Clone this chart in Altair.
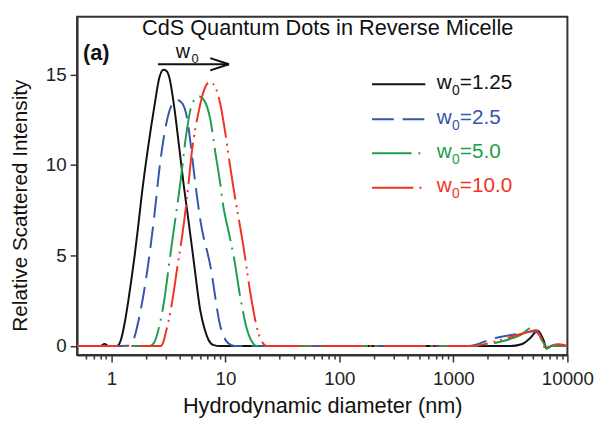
import altair as alt
import pandas as pd

FONT = "Liberation Sans, Arial, sans-serif"

series = ["w0=1.25", "w0=2.5", "w0=5.0", "w0=10.0"]
colors = ["#111111", "#3556aa", "#1f9e4c", "#ef3424"]
dashes = [[1, 0], [22, 9], [40, 7, 2, 7], [42, 6, 2, 5, 2, 6]]
legend_values = ["=1.25", "=2.5", "=5.0", "=10.0"]

x_black = [0.5, 0.8, 0.87, 0.95, 1.1, 1.15, 1.22, 1.31, 1.40, 1.50, 1.60, 1.71, 1.85, 2.09, 2.39, 2.64, 2.86, 3.05, 3.22, 3.56, 3.93, 4.35, 4.64, 5.3, 6.05, 6.6, 7.1, 7.9, 9.0, 100, 1000, 3140, 3960, 4670, 5500, 6200, 6560, 7400, 10000]
y_black = [0, 0, 0.12, 0, 0, 0.05, 0.4, 1.3, 2.4, 3.7, 5.0, 6.5, 8.4, 10.9, 13.3, 14.85, 15.27, 15.2, 14.85, 13.2, 11.0, 8.7, 7.4, 4.6, 1.9, 0.9, 0.35, 0.05, 0, 0, 0, 0, 0.1, 0.42, 0.85, 0.3, -0.13, 0.03, 0]

x_blue = [0.5, 1.0, 1.40, 1.55, 1.77, 2.09, 2.39, 2.64, 3.01, 3.44, 3.8, 4.2, 4.64, 4.95, 5.47, 6.05, 7.4, 9.0, 10.6, 12.0, 100, 1000, 1362, 2248, 3870, 5000, 5400, 6200, 6560, 7400, 10000]
y_blue = [0, 0, 0.02, 0.3, 1.7, 4.4, 7.3, 9.8, 12.2, 13.4, 13.6, 13.4, 12.5, 11.2, 8.9, 6.9, 4.4, 1.14, 0.15, 0, 0, 0, 0, 0.42, 0.69, 0.8, 0.75, 0.2, -0.1, 0.02, 0]

x_green = [0.5, 1.0, 2.15, 2.35, 2.64, 2.92, 3.22, 3.56, 3.85, 4.06, 4.49, 5.12, 5.85, 6.47, 7.39, 8.16, 9.0, 9.6, 10.6, 11.8, 13.6, 15.5, 17.5, 19.0, 100, 1000, 1450, 2575, 3870, 5000, 5500, 6200, 6560, 7400, 10000]
y_green = [0, 0, 0, 0.15, 1.14, 2.6, 4.6, 6.6, 8.1, 9.2, 11.5, 13.4, 13.8, 13.6, 12.5, 10.7, 9.0, 7.7, 6.4, 5.0, 2.6, 0.9, 0.15, 0, 0, 0, 0, 0.24, 0.6, 1.05, 0.7, 0.15, -0.15, 0.02, 0]

x_red = [0.5, 1.0, 2.7, 2.85, 3.01, 3.33, 3.8, 4.2, 4.57, 5.12, 5.85, 6.47, 7.29, 8.16, 9.0, 9.97, 11.0, 11.8, 14.4, 16.9, 19.3, 21.4, 23, 100, 1000, 1400, 2575, 4360, 5330, 6000, 6460, 7000, 8500, 10000]
y_red = [0, 0, 0, 0.2, 0.78, 2.05, 4.4, 6.2, 8.0, 10.9, 13.0, 14.1, 14.6, 14.3, 13.4, 11.8, 9.95, 8.7, 5.5, 2.6, 0.8, 0.15, 0, 0, 0, 0, 0.33, 0.75, 0.87, 0.3, -0.2, 0.05, 0.1, 0]

major_ticks = [1, 10, 100, 1000, 10000]
minor_ticks = [0.6, 0.7, 0.8, 0.9,
               2, 3, 4, 5, 6, 7, 8, 9,
               20, 30, 40, 50, 60, 70, 80, 90,
               200, 300, 400, 500, 600, 700, 800, 900,
               2000, 3000, 4000, 5000, 6000, 7000, 8000, 9000]
y_ticks = [0, 5, 10, 15]

frames = []
for name, xs, ys in [(series[0], x_black, y_black), (series[1], x_blue, y_blue),
                     (series[2], x_green, y_green), (series[3], x_red, y_red)]:
    frames.append(pd.DataFrame({"d": xs, "v": ys, "s": name, "o": list(range(len(xs)))}))
df = pd.concat(frames, ignore_index=True)

is_major = "indexof([1,10,100,1000,10000], datum.value) >= 0"

x_axis = alt.Axis(
    values=sorted(major_ticks + minor_ticks),
    labelExpr=f"{is_major} ? format(datum.value, 'd') : ''",
    tickSize={"condition": {"test": is_major, "value": 7}, "value": 4},
    labelOverlap=False, labelFlush=False, labelPadding=8,
    labelFontSize=19, titleFontSize=22, titlePadding=7,
    grid=False,
)
y_axis = alt.Axis(values=y_ticks, tickSize=7, labelPadding=4, labelFontSize=19,
                  titleFontSize=21, titleX=-57, titleY=191, titleBaseline="middle",
                  titleAlign="center", grid=False)

x_enc = alt.X("d:Q", scale=alt.Scale(type="log", domain=[0.5, 10000], nice=False),
              axis=x_axis, title="Hydrodynamic diameter (nm)")
y_enc = alt.Y("v:Q", scale=alt.Scale(domain=[-0.5, 18.2], nice=False, zero=False),
              axis=y_axis, title="Relative Scattered Intensity")

base = alt.Chart(df).encode(x=x_enc, y=y_enc, order="o:Q")
layers = []
for name, c, dsh in zip(series, colors, dashes):
    kw = dict(color=c, strokeWidth=2, interpolate="monotone", clip=True)
    if dsh != [1, 0]:
        kw["strokeDash"] = dsh
    layers.append(base.transform_filter(alt.datum.s == name).mark_line(**kw))

dummy = pd.DataFrame({"k": [0]})


def txt(text, x, y, size, color="#111111", weight="normal", align="left"):
    return alt.Chart(dummy).mark_text(
        text=text, fontSize=size, font=FONT, color=color, fontWeight=weight,
        align=align, baseline="alphabetic"
    ).encode(x=alt.value(x), y=alt.value(y))


def seg(x1, y1, x2, y2, color, dash=None, width=2):
    kw = dict(color=color, strokeWidth=width)
    if dash:
        kw["strokeDash"] = dash
    return alt.Chart(dummy).mark_rule(**kw).encode(
        x=alt.value(x1), y=alt.value(y1), x2=alt.value(x2), y2=alt.value(y2))


ann = []
ann.append(txt("CdS Quantum Dots in Reverse Micelle", 254, 19, 22, align="center"))
ann.append(txt("(a)", 6, 44, 22, weight="bold"))
# arrow with w0 label
ann.append(seg(82, 48.2, 154, 48.2, "#111111"))
ann.append(seg(135, 42, 154, 48.2, "#111111"))
ann.append(seg(135, 54.4, 154, 48.2, "#111111"))
ann.append(txt("w", 100, 42, 20))
ann.append(txt("0", 116, 47, 13))

# legend
rows_y = [68.4, 104, 138.4, 173.4]
for ry, c, dsh, val in zip(rows_y, colors, dashes, legend_values):
    ann.append(seg(299, ry, 353, ry, c, None if dsh == [1, 0] else dsh))
    ann.append(txt("w", 364.5, ry + 4.8, 21, color=c))
    ann.append(txt("0", 380, ry + 10.8, 14, color=c))
    ann.append(txt(val, 388, ry + 4.8, 21, color=c))

chart = alt.layer(*layers, *ann).properties(
    width=497, height=343,
    autosize=alt.AutoSizeParams(type="none"),
    padding={"left": 70, "top": 6, "right": 30, "bottom": 64},
).configure_view(
    stroke="#333333", strokeWidth=2
).configure_axis(
    domainColor="#333333", domainWidth=2, tickColor="#333333", tickWidth=1.5,
    labelColor="#222222", titleColor="#111111", labelFont=FONT, titleFont=FONT,
    titleFontWeight="normal"
)

chart.save("out.html", embed_options={"renderer": "svg", "actions": False})
